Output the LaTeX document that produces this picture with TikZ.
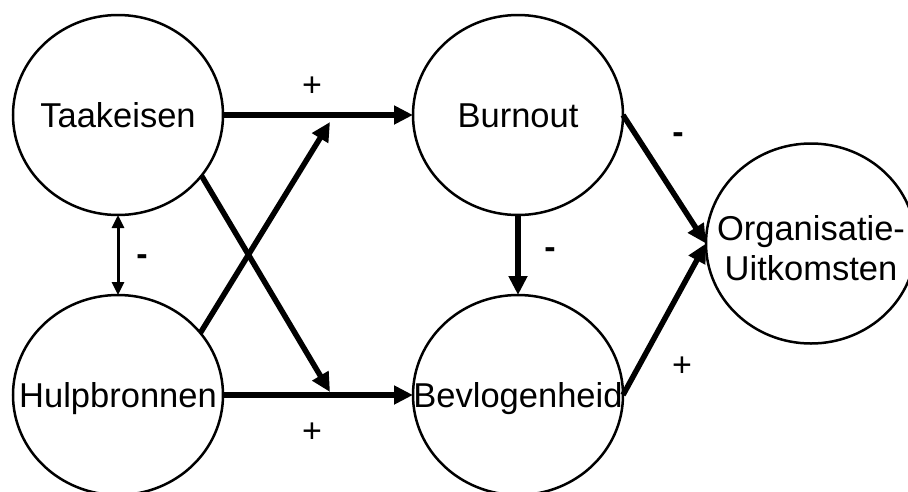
\documentclass[tikz,border=0pt]{standalone}
\usepackage{fontspec}
\setmainfont{Liberation Sans}
\usetikzlibrary{arrows.meta,shapes.geometric}
\begin{document}
\begin{tikzpicture}[x=1pt,y=-1pt,
  circ/.style={ellipse,draw,line width=2.5pt,minimum width=210pt,minimum height=200pt,inner sep=0pt,outer sep=0pt},
  txt/.style={font=\fontsize{34.5}{40}\selectfont,inner sep=0pt,text height=25pt,text depth=0pt},
  thickarrow/.style={line width=5.5pt,-{Triangle[length=19pt,width=18pt]}},
  thinarrow/.style={line width=3pt,{Triangle[length=13pt,width=12pt]}-{Triangle[length=13pt,width=12pt]}},
  sign/.style={font=\fontsize{34}{40}\selectfont,inner sep=0pt},
  minus/.style={font=\fontsize{34}{40}\selectfont\bfseries,inner sep=0pt}]
\useasboundingbox (0,0) rectangle (908,491);
% circles
\node[circ] (T) at (118,115) {};
\node[circ] (H) at (118,395) {};
\node[circ] (B) at (518,115) {};
\node[circ] (V) at (518,395) {};
\node[circ] (O) at (811,243.5) {};
% texts
\node[txt] (Tt) at (T) {Taakeisen};
\node[txt] (Ht) at (H) {Hulpbronnen};
\node[txt] (Bt) at (B) {Burnout};
\node[txt] (Vt) at (V) {Bevlogenheid};
\node[txt] (Ot1) at (811,228) {Organisatie-};
\node[txt] (Ot2) at (811,268) {Uitkomsten};
% auxiliary targets
\coordinate (c1) at (330,122);
\coordinate (c2) at (330,392);
% arrows
\draw[thickarrow] (T.east) -- (B.west);
\draw[thickarrow] (H.east) -- (V.west);
\draw[thickarrow] (H.37) -- (c1);
\draw[thickarrow] (T.-36) -- (c2);
\draw[thinarrow] (T.south) -- (H.north);
\draw[thickarrow] (B.south) -- (V.north);
\draw[thickarrow] (B.east) -- (O.west);
\draw[thickarrow] (V.east) -- (O.west);
% signs
\node[sign] (s1) at (312,87) {+};
\node[sign] (s2) at (312,433) {+};
\node[minus] (s3) at (142,260) {-};
\node[minus] (s4) at (550,253) {-};
\node[minus] (s5) at (678,138) {-};
\node[sign] (s6) at (682,367) {+};
\end{tikzpicture}
\end{document}
